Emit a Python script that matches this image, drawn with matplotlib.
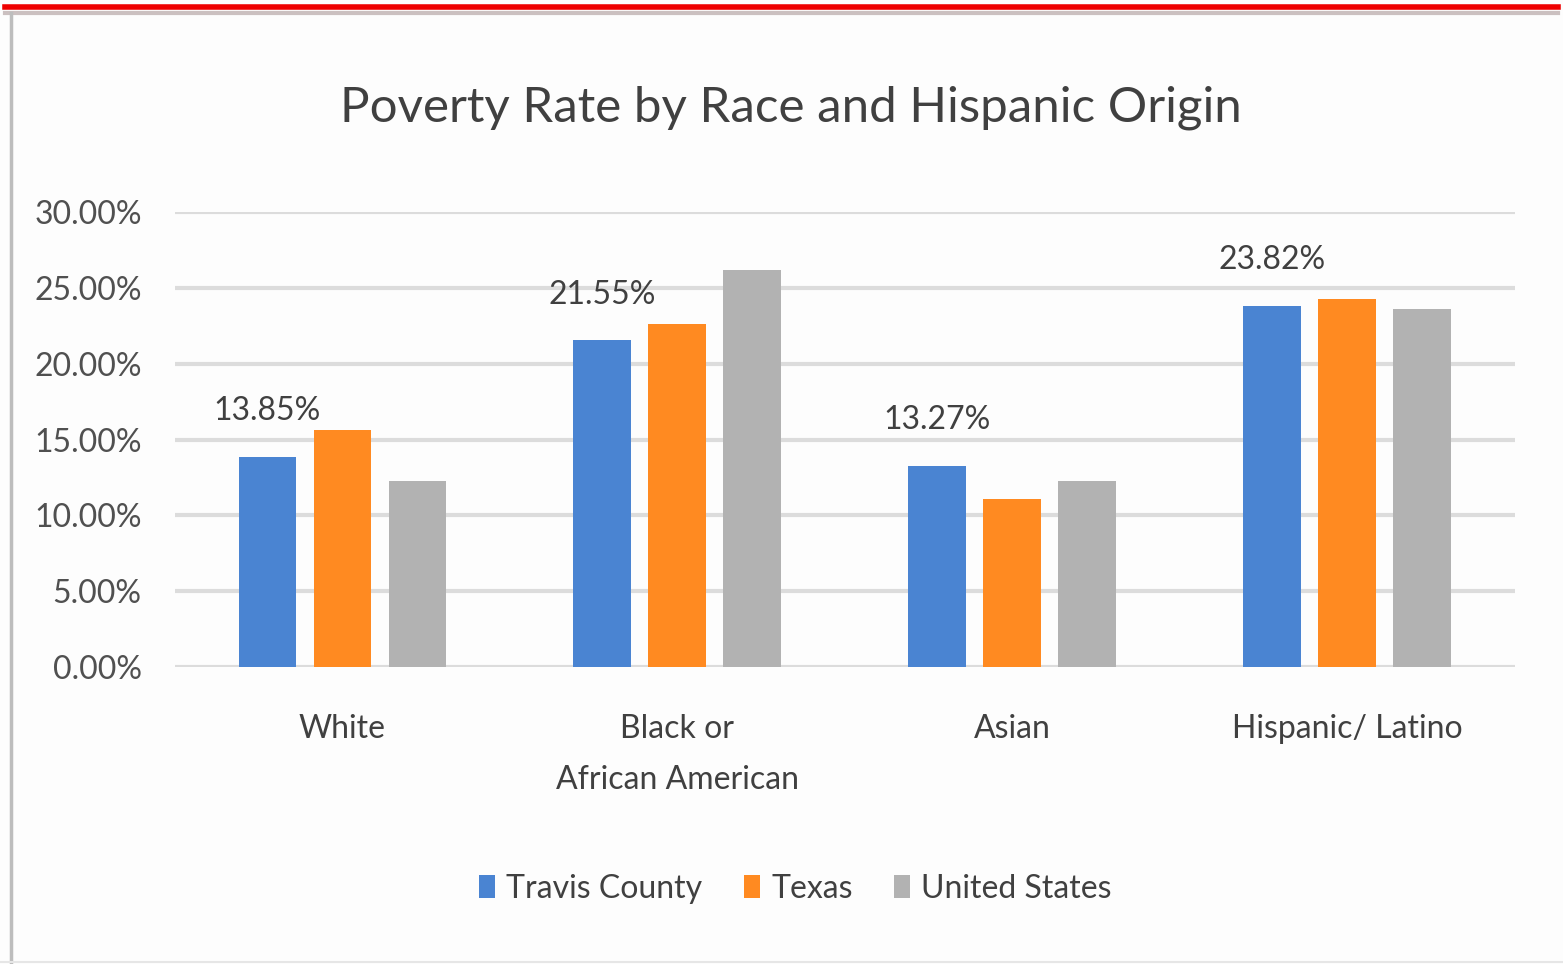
import numpy as np
import matplotlib.pyplot as plt
from matplotlib.lines import Line2D
from matplotlib.patches import Patch

plt.rcParams['font.family'] = ['Lato', 'DejaVu Sans']

# --- data ---
categories = ["White", "Black or\nAfrican American", "Asian", "Hispanic/ Latino"]
series_names = ["Travis County", "Texas", "United States"]
travis = [13.85, 21.55, 13.27, 23.82]
texas = [15.6, 22.6, 11.1, 24.3]
usa = [12.3, 26.2, 12.3, 23.6]
colors = ["#4a84d2", "#ff8a21", "#b2b2b2"]
yticks = [0, 5, 10, 15, 20, 25, 30]

fig = plt.figure(figsize=(15.63, 9.64), dpi=100, facecolor='#fdfdfd')
ax = fig.add_axes([0.112, 0.308, 0.857, 0.472])
ax.set_facecolor('#fdfdfd')

x = np.arange(len(categories))
step = 0.224
width = 0.173
bars = []
for i, (vals, c) in enumerate(zip([travis, texas, usa], colors)):
    b = ax.bar(x + (i - 1) * step, vals, width, color=c, zorder=3, label=series_names[i])
    bars.append(b)

ax.bar_label(bars[0], labels=[f"{v:.2f}%" for v in travis], padding=22,
             fontsize=23, color='#404040')

ax.set_xlim(-0.5, 3.5)
ax.set_ylim(0, 30)
ax.set_yticks(yticks)
ax.set_yticklabels([f"{v:.2f}%" for v in yticks], fontsize=23, color='#505050')
ax.set_xticks(x)
ax.set_xticklabels(categories, fontsize=23, color='#404040', linespacing=1.85)
ax.tick_params(axis='both', length=0)
ax.tick_params(axis='y', pad=24)
ax.tick_params(axis='x', pad=34)
ax.grid(axis='y', color='#dcdcdc', linewidth=3, zorder=0)
for s in ax.spines.values():
    s.set_visible(False)

fig.text(0.506, 0.888, "Poverty Rate by Race and Hispanic Origin", ha='center', va='center',
         fontsize=35.5, color='#404040')

handles = [Patch(facecolor=c) for c in colors]
fig.legend(handles, series_names, loc='center', bbox_to_anchor=(0.509, 0.078), ncol=3,
           frameon=False, fontsize=23, labelcolor='#404040', handlelength=0.5, handleheight=0.72,
           handletextpad=0.35, columnspacing=1.3)

# frame lines around the picture
fig.add_artist(Line2D([0.003, 0.997], [0.993, 0.993], color='#ee0000', linewidth=4, transform=fig.transFigure))
fig.add_artist(Line2D([0.003, 0.997], [0.987, 0.987], color='#cbc0c0', linewidth=3, transform=fig.transFigure))
fig.add_artist(Line2D([0.0068, 0.0068], [0.0, 0.987], color='#bdbdbd', linewidth=2.5, transform=fig.transFigure))
fig.add_artist(Line2D([0.0, 1.0], [0.002, 0.002], color='#e6e6e6', linewidth=1.5, transform=fig.transFigure))

fig.savefig("out.png", dpi=100, facecolor=fig.get_facecolor())
